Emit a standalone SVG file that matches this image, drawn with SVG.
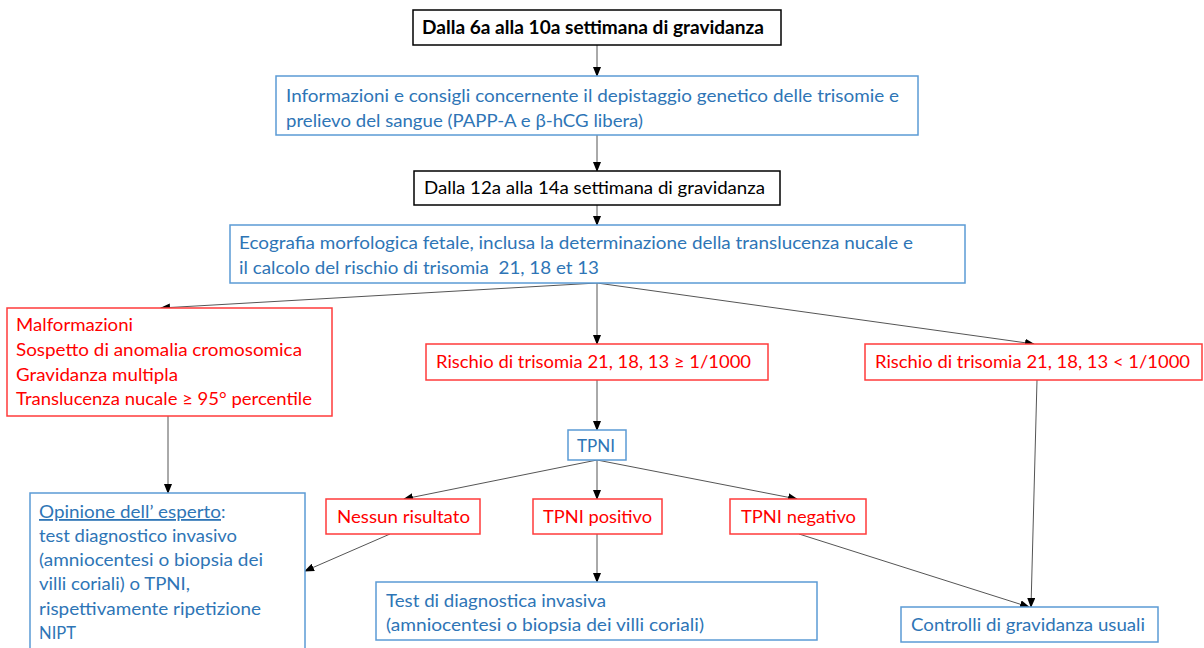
<svg xmlns="http://www.w3.org/2000/svg" width="1204" height="648" viewBox="0 0 1204 648">
<style>
text{font-family:Lato,"Open Sans","Liberation Sans",sans-serif;font-size:18px}
.bk rect{fill:#fff;stroke:#000;stroke-width:1.5}
.bk text{fill:#000}
.bl rect{fill:#fff;stroke:#5B9BD5;stroke-width:1.5}
.bl text{fill:#2E75B6}
.rd rect{fill:#fff;stroke:#FF3B3B;stroke-width:1.5}
.rd text{fill:#FF0000}
#connectors line{stroke:#555;stroke-width:1;marker-end:url(#ah)}
</style>
<defs>
<marker id="ah" markerWidth="10" markerHeight="8" refX="9" refY="4" orient="auto" markerUnits="userSpaceOnUse">
<path d="M0,0 L10,4 L0,8 Z" fill="#000"/>
</marker>
</defs>
<rect width="1204" height="648" fill="#fff"/>
<g id="connectors">
<line x1="597" y1="45" x2="597" y2="76"/>
<line x1="597" y1="135" x2="597" y2="171"/>
<line x1="597" y1="205" x2="597" y2="225"/>
<line x1="597" y1="283" x2="161" y2="308"/>
<line x1="597" y1="283" x2="597" y2="344"/>
<line x1="597" y1="283" x2="1034" y2="344"/>
<line x1="168" y1="416" x2="168" y2="493"/>
<line x1="597" y1="380" x2="597" y2="430"/>
<line x1="597" y1="460" x2="404" y2="499"/>
<line x1="597" y1="460" x2="597" y2="499"/>
<line x1="597" y1="460" x2="797" y2="499"/>
<line x1="390" y1="534" x2="305" y2="571"/>
<line x1="597" y1="534" x2="597" y2="582"/>
<line x1="799" y1="534" x2="1029" y2="607"/>
<line x1="1037" y1="380" x2="1031" y2="607"/>
</g>
<g id="n1" class="bk">
<rect x="413" y="10" width="368" height="35"/>
<text x="422" y="34" font-weight="bold" textLength="342" lengthAdjust="spacingAndGlyphs">Dalla 6a alla 10a settimana di gravidanza</text>
</g>
<g id="n2" class="bl">
<rect x="276" y="76" width="642" height="59"/>
<text x="286" y="102" textLength="613" lengthAdjust="spacingAndGlyphs">Informazioni e consigli concernente il depistaggio genetico delle trisomie e</text>
<text x="286" y="127" textLength="357" lengthAdjust="spacingAndGlyphs">prelievo del sangue (PAPP-A e β-hCG libera)</text>
</g>
<g id="n3" class="bk">
<rect x="414" y="171" width="366" height="34"/>
<text x="424" y="194" textLength="341" lengthAdjust="spacingAndGlyphs">Dalla 12a alla 14a settimana di gravidanza</text>
</g>
<g id="n4" class="bl">
<rect x="230" y="225" width="735" height="58"/>
<text x="239" y="249" textLength="674" lengthAdjust="spacingAndGlyphs">Ecografia morfologica fetale, inclusa la determinazione della translucenza nucale e</text>
<text x="239" y="274" xml:space="preserve" textLength="360" lengthAdjust="spacingAndGlyphs">il calcolo del rischio di trisomia  21, 18 et 13</text>
</g>
<g id="n5" class="rd">
<rect x="7" y="308" width="325" height="108"/>
<text x="16" y="331" textLength="117" lengthAdjust="spacingAndGlyphs">Malformazioni</text>
<text x="16" y="356" textLength="286" lengthAdjust="spacingAndGlyphs">Sospetto di anomalia cromosomica</text>
<text x="16" y="381" textLength="162" lengthAdjust="spacingAndGlyphs">Gravidanza multipla</text>
<text x="16" y="405" textLength="296" lengthAdjust="spacingAndGlyphs">Translucenza nucale ≥ 95° percentile</text>
</g>
<g id="n6" class="rd">
<rect x="426" y="344" width="342" height="36"/>
<text x="436" y="368" textLength="315" lengthAdjust="spacingAndGlyphs">Rischio di trisomia 21, 18, 13 ≥ 1/1000</text>
</g>
<g id="n7" class="rd">
<rect x="865" y="344" width="337" height="36"/>
<text x="875" y="368" textLength="315" lengthAdjust="spacingAndGlyphs">Rischio di trisomia 21, 18, 13 &lt; 1/1000</text>
</g>
<g id="n8" class="bl">
<rect x="568" y="430" width="58" height="30"/>
<text x="577" y="452" textLength="38" lengthAdjust="spacingAndGlyphs">TPNI</text>
</g>
<g id="n9" class="rd">
<rect x="326" y="499" width="154" height="35"/>
<text x="337" y="523" textLength="133" lengthAdjust="spacingAndGlyphs">Nessun risultato</text>
</g>
<g id="n10" class="rd">
<rect x="533" y="499" width="129" height="35"/>
<text x="543" y="523" textLength="109" lengthAdjust="spacingAndGlyphs">TPNI positivo</text>
</g>
<g id="n11" class="rd">
<rect x="730" y="499" width="136" height="35"/>
<text x="741" y="523" textLength="115" lengthAdjust="spacingAndGlyphs">TPNI negativo</text>
</g>
<g id="n12" class="bl">
<rect x="30" y="493" width="275" height="170"/>
<text x="39" y="518"><tspan text-decoration="underline" textLength="182" lengthAdjust="spacingAndGlyphs">Opinione dell’ esperto</tspan><tspan>:</tspan></text>
<text x="39" y="542" textLength="198" lengthAdjust="spacingAndGlyphs">test diagnostico invasivo</text>
<text x="39" y="566" textLength="224" lengthAdjust="spacingAndGlyphs">(amniocentesi o biopsia dei</text>
<text x="39" y="590" textLength="151" lengthAdjust="spacingAndGlyphs">villi coriali) o TPNI,</text>
<text x="39" y="615" textLength="222" lengthAdjust="spacingAndGlyphs">rispettivamente ripetizione</text>
<text x="39" y="639" textLength="37" lengthAdjust="spacingAndGlyphs">NIPT</text>
</g>
<g id="n13" class="bl">
<rect x="376" y="582" width="441" height="58"/>
<text x="386" y="607" textLength="220" lengthAdjust="spacingAndGlyphs">Test di diagnostica invasiva</text>
<text x="386" y="631" textLength="318" lengthAdjust="spacingAndGlyphs">(amniocentesi o biopsia dei villi coriali)</text>
</g>
<g id="n14" class="bl">
<rect x="901" y="607" width="257" height="35"/>
<text x="911" y="631" textLength="234" lengthAdjust="spacingAndGlyphs">Controlli di gravidanza usuali</text>
</g>
</svg>
